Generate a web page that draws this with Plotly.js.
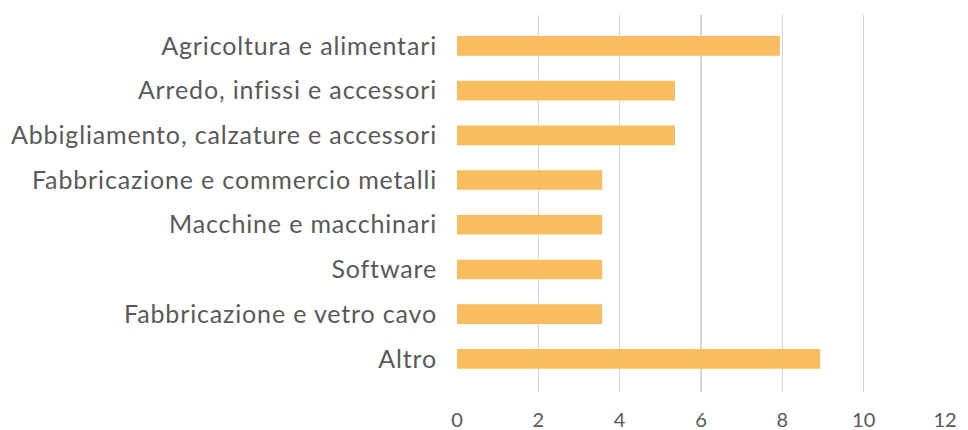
<!DOCTYPE html>
<html>
<head>
<meta charset="utf-8">
<script src="https://cdn.plot.ly/plotly-3.0.1.min.js"></script>
<style>
html,body{margin:0;padding:0;background:#fff;}
#chart{width:968px;height:430px;}
#chart .ytick text{letter-spacing:0.85px;}
</style>
</head>
<body>
<div id="chart"></div>
<script>
const categories = [
  "Agricoltura e alimentari",
  "Arredo, infissi e accessori",
  "Abbigliamento, calzature e accessori",
  "Fabbricazione e commercio metalli",
  "Macchine e macchinari",
  "Software",
  "Fabbricazione e vetro cavo",
  "Altro"
];
const values = [7.94, 5.36, 5.36, 3.57, 3.57, 3.57, 3.57, 8.93];
const xTicks = [0, 2, 4, 6, 8, 10, 12];

const trace = {
  type: "bar",
  orientation: "h",
  y: categories,
  x: values,
  width: 0.44,
  marker: {color: "#F7BD5F"},
  hoverinfo: "x+y"
};

const layout = {
  width: 968,
  height: 430,
  margin: {l: 457, r: 23, t: 15, b: 38, pad: 0},
  paper_bgcolor: "#ffffff",
  plot_bgcolor: "#ffffff",
  showlegend: false,
  font: {family: "Lato, 'Open Sans', sans-serif", color: "#595959"},
  xaxis: {
    range: [0, 12],
    tickvals: xTicks,
    ticktext: xTicks.map(String),
    showgrid: true,
    gridcolor: "#d6d6d6",
    gridwidth: 1.6,
    zeroline: false,
    showline: false,
    ticks: "",
    ticklabelstandoff: 14,
    tickfont: {family: "Lato, sans-serif", size: 20, color: "#595959"},
    fixedrange: true
  },
  yaxis: {
    type: "category",
    range: [7.74, -0.69],
    showgrid: false,
    zeroline: false,
    showline: false,
    ticks: "",
    ticklabelstandoff: 19,
    tickfont: {family: "Lato, sans-serif", size: 25, color: "#595959"},
    fixedrange: true
  }
};

Plotly.newPlot("chart", [trace], layout, {displayModeBar: false, staticPlot: true});
</script>
</body>
</html>
